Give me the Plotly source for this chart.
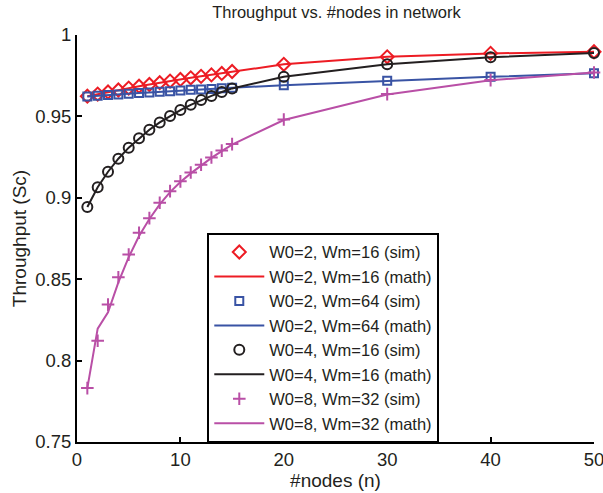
import plotly.graph_objects as go

x_nodes = [1, 2, 3, 4, 5, 6, 7, 8, 9, 10, 11, 12, 13, 14, 15, 20, 30, 40, 50]

red_sim = [0.9624, 0.9637, 0.9650, 0.9662, 0.9674, 0.9685, 0.9696, 0.9707, 0.9717,
           0.9727, 0.9737, 0.9746, 0.9755, 0.9764, 0.9776, 0.9820, 0.9866, 0.9887, 0.9897]
red_math = red_sim

blue_sim = [0.9622, 0.9627, 0.9631, 0.9635, 0.9639, 0.9643, 0.9647, 0.9651, 0.9655,
            0.9659, 0.9663, 0.9666, 0.9669, 0.9673, 0.9676, 0.9692, 0.9719, 0.9743, 0.9765]
blue_math = blue_sim

black_sim = [0.8943, 0.9065, 0.9160, 0.9240, 0.9308, 0.9366, 0.9418, 0.9463, 0.9503,
             0.9539, 0.9571, 0.9600, 0.9626, 0.9650, 0.9672, 0.9743, 0.9820, 0.9863, 0.9890]
black_math = black_sim

pink_sim = [0.7831, 0.8122, 0.8344, 0.8512, 0.8651, 0.8785, 0.8875, 0.8970, 0.9041,
            0.9101, 0.9155, 0.9203, 0.9248, 0.9290, 0.9330, 0.9481, 0.9637, 0.9723, 0.9770]
pink_math = [0.7831, 0.8196, 0.8296, 0.8480, 0.8635, 0.8765, 0.8870, 0.8960, 0.9035,
             0.9097, 0.9150, 0.9200, 0.9245, 0.9287, 0.9327, 0.9478, 0.9635, 0.9722, 0.9770]

x_ticks = [0, 10, 20, 30, 40, 50]
y_ticks = [0.75, 0.8, 0.85, 0.9, 0.95, 1.0]
y_ticktext = ["0.75", "0.8", "0.85", "0.9", "0.95", "1"]

RED = "#ed1c24"
BLUE = "#3953a4"
BLACK = "#231f20"
PINK = "#b94fa6"

series = [
    ("W0=2, Wm=16", red_sim, red_math, RED, "diamond-open", 10),
    ("W0=2, Wm=64", blue_sim, blue_math, BLUE, "square-open", 8),
    ("W0=4, Wm=16", black_sim, black_math, BLACK, "circle-open", 10),
    ("W0=8, Wm=32", pink_sim, pink_math, PINK, "cross-thin-open", 9),
]

fig = go.Figure()
for name, sim, math, color, sym, size in series:
    fig.add_trace(go.Scatter(
        x=x_nodes, y=sim, mode="markers", name=name + " (sim)",
        marker=dict(symbol=sym, size=size, color=color, line=dict(color=color, width=2)),
        cliponaxis=False,
    ))
    fig.add_trace(go.Scatter(
        x=x_nodes, y=math, mode="lines", name=name + " (math)",
        line=dict(color=color, width=2),
    ))

font_family = "Liberation Sans, Arial, Helvetica, sans-serif"
fig.update_layout(
    width=603, height=493,
    margin=dict(l=77, r=9, t=35, b=51, autoexpand=False),
    paper_bgcolor="white", plot_bgcolor="white",
    font=dict(family=font_family, size=18.5, color="#231f20"),
    title=dict(text="Throughput vs. #nodes in network", x=0.558, xanchor="center",
               y=0.976, yanchor="middle", font=dict(size=16.5)),
    showlegend=True,
    legend=dict(x=0.252, xanchor="left", y=0.514, yanchor="top",
                bordercolor="black", borderwidth=2, bgcolor="white",
                font=dict(size=16.5), tracegroupgap=0, itemwidth=50,
                traceorder="normal"),
    xaxis=dict(range=[0, 50], tickvals=x_ticks,
               ticks="inside", ticklen=5, tickwidth=1.5, tickcolor="black",
               showline=True, linecolor="black", linewidth=2, mirror=False,
               showgrid=False, zeroline=False, automargin=False,
               ticklabeloverflow="allow", tickfont=dict(size=18.5),
               title=dict(text="#nodes (n)", standoff=0, font=dict(size=19))),
    yaxis=dict(range=[0.75, 1.0], tickvals=y_ticks, ticktext=y_ticktext,
               ticks="inside", ticklen=5, tickwidth=1.5, tickcolor="black",
               showline=True, linecolor="black", linewidth=2, mirror=False,
               showgrid=False, zeroline=False, automargin=False,
               ticklabeloverflow="allow", tickfont=dict(size=18.5),
               title=dict(text="Throughput (Sc)", standoff=4, font=dict(size=19))),
)

fig.write_html("out.html", config={"displayModeBar": False},
               post_script="document.body.style.margin='0';document.body.style.overflow='hidden';")
